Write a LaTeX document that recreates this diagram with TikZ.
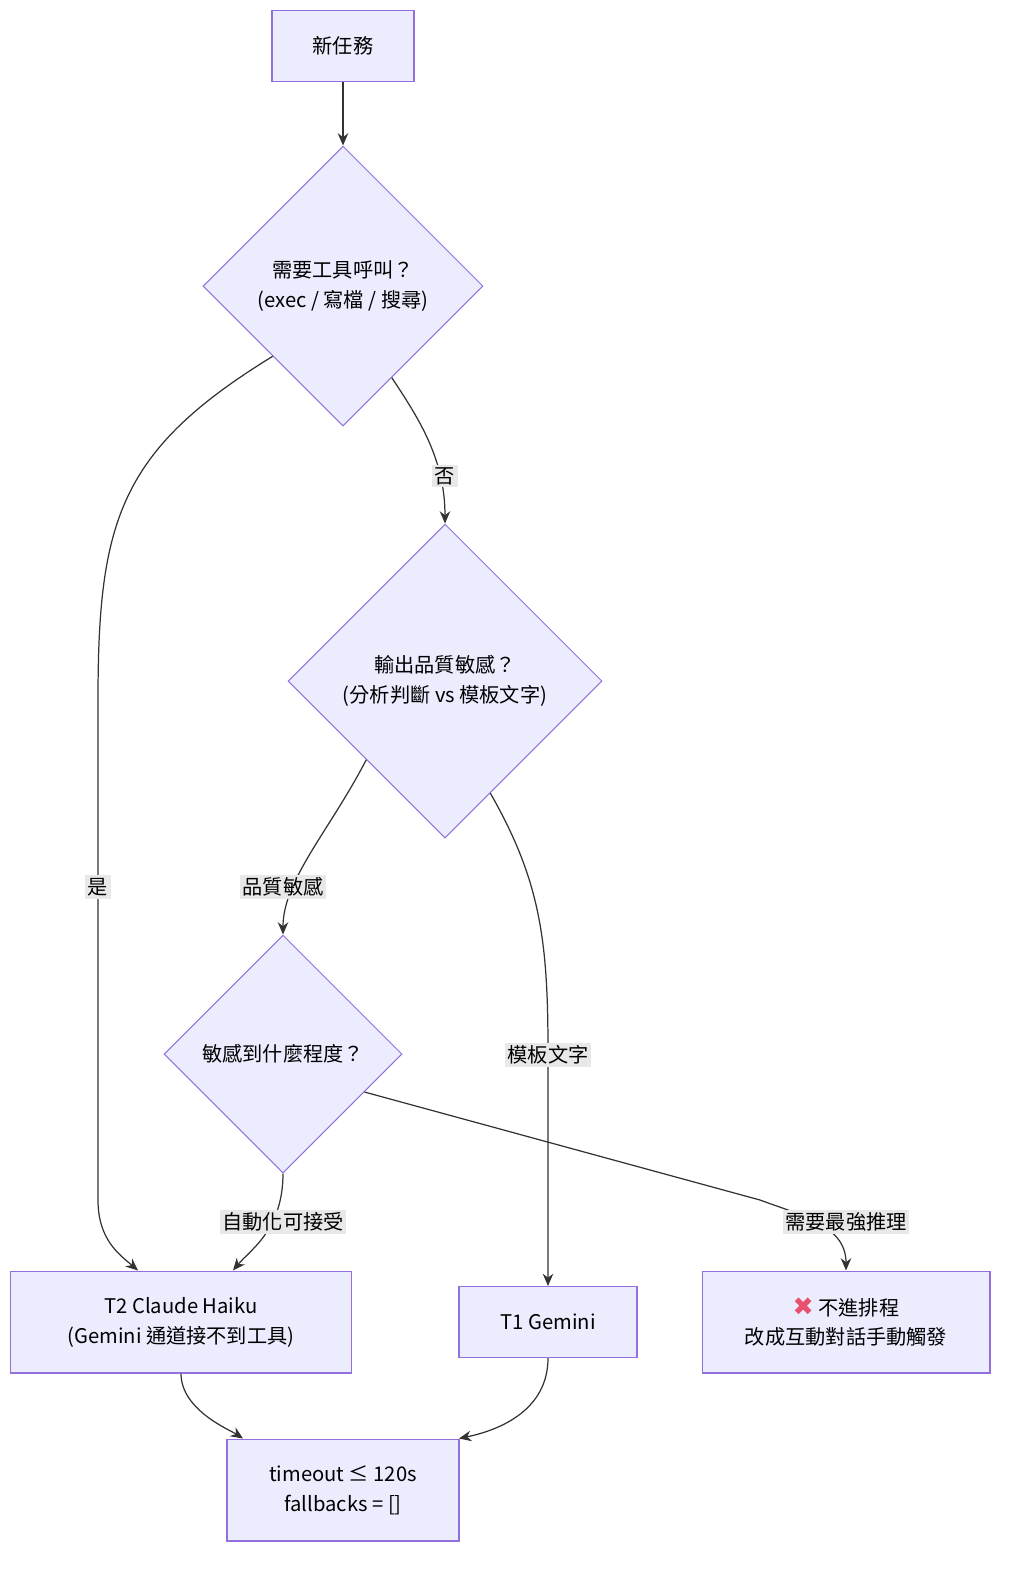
\documentclass[tikz,border=0pt]{standalone}
\usepackage{fontspec}
\setmainfont{Noto Sans CJK TC}
\newfontfamily\symfont{DejaVu Sans}
\usetikzlibrary{shapes.geometric,arrows.meta}
\definecolor{boxfill}{HTML}{ECECFF}
\definecolor{boxline}{HTML}{9370DB}
\definecolor{edgeline}{HTML}{333333}
\definecolor{lblfill}{HTML}{E8E8E8}
\definecolor{crossred}{HTML}{E8506E}

\tikzset{
    box/.style={rectangle, draw=boxline, fill=boxfill, line width=0.6pt, align=center, inner sep=0pt},
    decision/.style={diamond, draw=boxline, fill=boxfill, line width=0.6pt, align=center, inner sep=0pt, aspect=1},
    lbl/.style={fill=lblfill, inner sep=1.5pt},
    arr/.style={draw=edgeline, line width=0.7pt, -{Stealth[length=7pt,width=6pt]}}
}

\begin{document}
\begin{tikzpicture}[x=0.02cm, y=-0.02cm, font=\fontsize{11.5}{17}\selectfont]
    \useasboundingbox (0,0) rectangle (1024,1586);

    % Define the nodes with specific positions
    \node[box, minimum width=2.84cm, minimum height=1.42cm] (start) at (343, 46) {新任務};
    \node[decision, minimum width=5.6cm, minimum height=5.6cm] (tools) at (343, 286) {需要工具呼叫？\\(exec / 寫檔 / 搜尋)};
    \node[decision, minimum width=6.28cm, minimum height=6.28cm] (quality) at (445, 681) {輸出品質敏感？\\(分析判斷 vs 模板文字)};
    \node[decision, minimum width=4.76cm, minimum height=4.76cm] (level) at (283, 1054) {敏感到什麼程度？};

    \node[box, minimum width=6.82cm, minimum height=2.04cm] (haiku) at (181, 1322) {T2 Claude Haiku\\(Gemini 通道接不到工具)};
    \node[box, minimum width=3.56cm, minimum height=1.42cm] (gemini) at (548, 1322) {T1 Gemini};
    \node[box, minimum width=5.76cm, minimum height=2.04cm] (manual) at (846, 1322) {{\symfont\Large\color{crossred}✖} 不進排程\\改成互動對話手動觸發};
    \node[box, minimum width=4.64cm, minimum height=2.04cm] (limit) at (343, 1490) {timeout ≤ 120s\\fallbacks = []};

    % Draw the edges between nodes
    \draw[arr] (start) -- (tools);
    \draw[arr] (tools.south west) .. controls (120, 450) and (98, 520) .. (98, 700) -- (98, 1200) .. controls (98, 1240) and (120, 1255) .. ([xshift=-0.86cm]haiku.north);
    \draw[arr] (tools.-62) .. controls (420, 420) and (445, 460) .. (quality.north);
    \draw[arr] (quality.south west) .. controls (330, 830) and (283, 880) .. (level.north);
    \draw[arr] (quality.-68) .. controls (540, 880) and (548, 940) .. (548, 1050) -- (gemini.north);
    \draw[arr] (level.south) .. controls (283, 1230) and (250, 1250) .. ([xshift=1.04cm]haiku.north);
    \draw[arr] (level.-25) -- (760, 1200) .. controls (800, 1215) and (846, 1225) .. (manual.north);
    \draw[arr] (haiku.south) .. controls (181, 1410) and (230, 1430) .. ([xshift=-2.0cm]limit.north);
    \draw[arr] (gemini.south) .. controls (548, 1410) and (500, 1430) .. ([xshift=2.32cm]limit.north);

    % Edge labels
    \node[lbl] (yes) at (98, 887) {是};
    \node[lbl] (no) at (445, 476) {否};
    \node[lbl] (sens) at (283, 887) {品質敏感};
    \node[lbl] (tmpl) at (548, 1055) {模板文字};
    \node[lbl] (auto) at (283, 1222) {自動化可接受};
    \node[lbl] (strong) at (846, 1222) {需要最強推理};
\end{tikzpicture}
\end{document}
